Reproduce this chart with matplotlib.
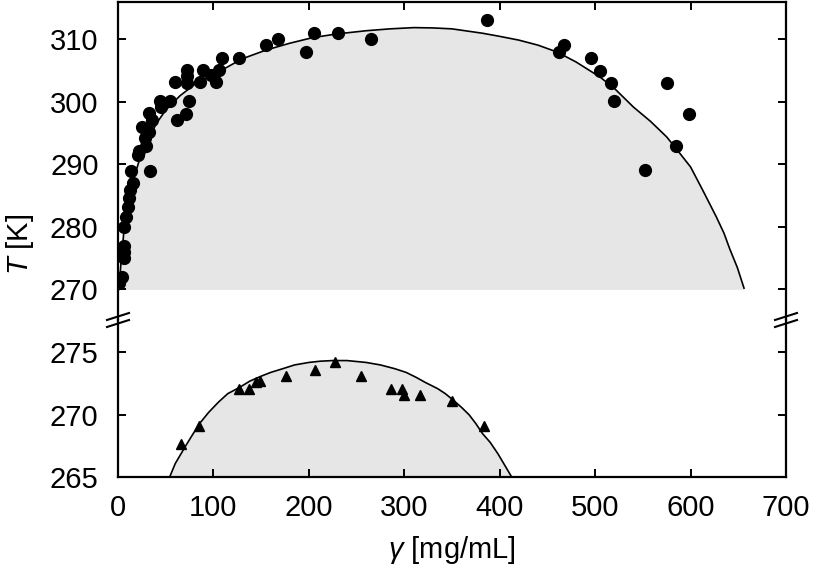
import matplotlib.pyplot as plt
from matplotlib.lines import Line2D

# fonte parecida com Helvetica
plt.rcParams['font.family'] = ['Liberation Sans', 'DejaVu Sans']
plt.rcParams['mathtext.fontset'] = 'custom'
plt.rcParams['mathtext.it'] = 'Liberation Sans:italic'
plt.rcParams['mathtext.rm'] = 'Liberation Sans'

# ---- dados do painel de cima (circulos) ----
circ_x = [0.8, 4.4, 5.8, 5.8, 5.8, 6.8, 8.6, 10.3, 11.3, 12.8, 15.5, 13.8, 33.7,
          20.7, 21.5, 29.5, 28.8, 25, 32, 33, 36, 43.5, 45, 54.7, 61.6, 71.5, 74,
          60, 72, 72, 72, 86, 89, 97.6, 103, 106, 109, 126.6, 155, 167.5, 197,
          205, 230.7, 265, 386.5, 467, 462.6, 495.8, 504.6, 516.8, 520, 575, 598,
          585, 552.7]
circ_y = [271.0, 272.0, 277.0, 276.0, 275.0, 280, 281.6, 283.2, 284.6, 285.9, 287,
          289, 289, 291.5, 292.2, 293, 294.2, 296, 295.2, 298.2, 297.1, 300.2,
          299.2, 300.2, 297.1, 298, 300.1, 303.2, 305.1, 304.1, 303.1, 303.2,
          305.1, 304.3, 303.2, 305.1, 307.1, 307.1, 309.1, 310.1, 308, 311.1,
          311.1, 310, 313.1, 309.1, 308, 307.1, 305, 303.1, 300.1, 303.1, 298,
          293, 289.1]

# curva ajustada
curva1_x = [1, 3, 6, 10, 15, 22, 30, 40, 50, 65, 82, 110, 130, 155, 180, 204, 230,
            260, 285, 310, 330, 350, 382, 400, 420, 440, 460, 480, 505, 520, 540,
            558, 575, 585, 600, 613, 627, 635, 641, 649, 656]
curva1_y = [270, 274, 279, 283, 287, 290.5, 293.5, 296.5, 298.7, 301, 303, 305.2,
            306.9, 308.3, 309.4, 310.3, 310.9, 311.4, 311.7, 311.9, 311.85, 311.7,
            311, 310.5, 309.9, 309.1, 308, 306.4, 304, 302.2, 299.2, 296.9, 294.4,
            292.5, 289.6, 285.8, 281.6, 279, 276.5, 273.5, 270.2]

# ---- dados do painel de baixo (triangulos) ----
tri_x = [66.2, 84.4, 126.6, 137, 144.8, 149, 176.2, 206, 227.6, 255, 285.6, 298,
         299.2, 316, 350, 384]
tri_y = [267.7, 269.1, 272.1, 272.1, 272.6, 272.7, 273.1, 273.6, 274.2, 273.1,
         272.1, 272.1, 271.6, 271.6, 271.1, 269.1]

curva2_x = [54, 60, 70, 78, 85.4, 95, 105, 115, 127.4, 138, 150, 160, 172.7, 185,
            200, 212, 225, 240, 260, 275, 290, 302, 312.6, 322, 335, 343, 351,
            360, 368, 375, 382, 390, 398, 405, 412.7]
curva2_y = [265, 266.1, 267.4, 268.4, 269.3, 270.2, 271, 271.7, 272.2, 272.7,
            273.1, 273.4, 273.7, 274.0, 274.2, 274.3, 274.35, 274.35, 274.2,
            274.0, 273.7, 273.4, 273.0, 272.6, 272.1, 271.7, 271.2, 270.6, 270,
            269.3, 268.5, 267.8, 266.9, 266.0, 265]

W, H = 816, 570
fig = plt.figure(figsize=(W / 100, H / 100), dpi=100)

esq, dir_ = 118 / W, 786 / W
topo = 1 - 2 / H
corte = 1 - 320 / H
base = 1 - 477.3 / H

ax1 = fig.add_axes([esq, corte, dir_ - esq, topo - corte])
ax2 = fig.add_axes([esq, base, dir_ - esq, corte - base])

cinza = '#e6e6e6'
ax1.fill_between(curva1_x, 270, curva1_y, color=cinza, lw=0)
ax1.plot(curva1_x, curva1_y, color='black', lw=1.2)
ax1.plot(circ_x, circ_y, 'o', color='black', ms=8.5, zorder=3)

ax2.fill_between(curva2_x, 265, curva2_y, color=cinza, lw=0)
ax2.plot(curva2_x, curva2_y, color='black', lw=1.2)
ax2.plot(tri_x, tri_y, '^', color='black', ms=7.5, zorder=3)

ax1.set_ylim(265.1, 316.0)
ax2.set_ylim(265, 277.6)
ax1.set_yticks([270, 280, 290, 300, 310])
ax2.set_yticks([265, 270, 275])

for ax in (ax1, ax2):
    ax.set_xlim(0, 700)
    ax.set_xticks(range(0, 701, 100))
    ax.tick_params(direction='in', length=6, width=1.4, labelsize=21,
                   top=True, right=True, pad=14)
    for s in ax.spines.values():
        s.set_linewidth(1.6)

ax1.spines['bottom'].set_visible(False)
ax1.tick_params(bottom=False, labelbottom=False)
ax2.spines['top'].set_visible(False)
ax2.tick_params(top=False)
ax2.tick_params(axis='x', pad=12)

# marcas de quebra do eixo
for cx in (118, 786):
    for cy in (316.5, 323.5):
        fig.add_artist(Line2D([(cx - 11) / W, (cx + 11) / W],
                              [1 - (cy + 3.5) / H, 1 - (cy - 3.5) / H],
                              color='black', lw=1.5, transform=fig.transFigure))

fig.text(20 / W, 1 - 244 / H, '$T$ [K]', rotation=90, ha='center', va='center',
         fontsize=21)
fig.text(452 / W, 1 - 550 / H, r'$\gamma$ [mg/mL]', ha='center', va='center',
         fontsize=21)

fig.savefig('out.png', dpi=100)
